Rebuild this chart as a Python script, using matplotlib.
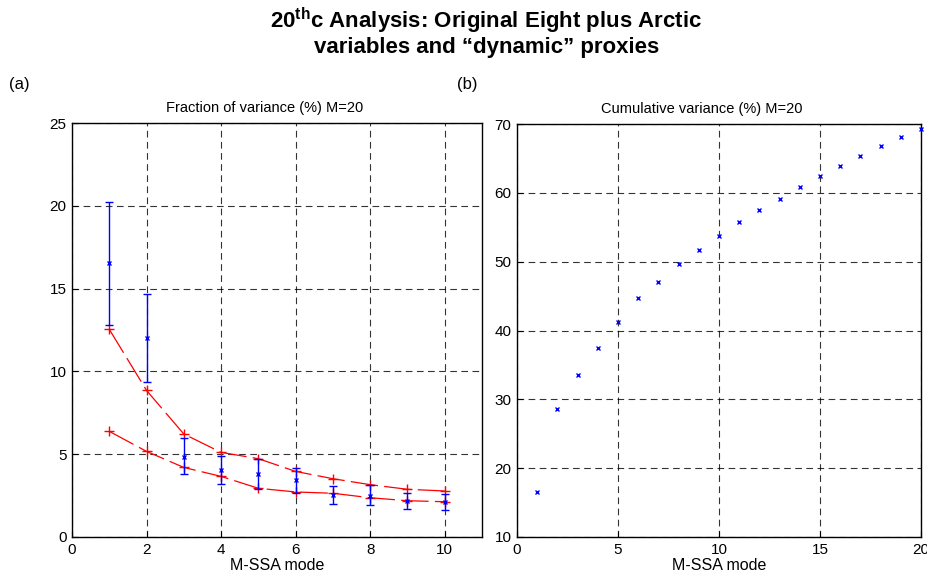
import matplotlib
matplotlib.use("Agg")
import matplotlib.pyplot as plt
import numpy as np

plt.rcParams['font.family'] = ['Liberation Sans', 'DejaVu Sans']
plt.rcParams['mathtext.fontset'] = 'custom'
plt.rcParams['mathtext.bf'] = 'Liberation Sans:bold'
plt.rcParams['mathtext.rm'] = 'Liberation Sans'

# Panel (a): fraction of variance per M-SSA mode
modes_a = [1, 2, 3, 4, 5, 6, 7, 8, 9, 10]
frac_var = [16.55, 12.0, 4.83, 4.02, 3.8, 3.46, 2.56, 2.5, 2.17, 2.11]
err_upper = [20.2, 14.7, 5.98, 4.9, 4.69, 4.16, 3.1, 3.12, 2.64, 2.62]
err_lower = [12.8, 9.36, 3.78, 3.18, 2.92, 2.66, 1.99, 1.95, 1.69, 1.65]
noise_hi = [12.54, 8.85, 6.22, 5.11, 4.73, 3.96, 3.52, 3.16, 2.88, 2.78]
noise_lo = [6.38, 5.17, 4.2, 3.66, 2.94, 2.72, 2.64, 2.37, 2.19, 2.13]

# Panel (b): cumulative variance
modes_b = list(range(1, 21))
cum_var = [16.5, 28.6, 33.5, 37.4, 41.3, 44.65, 47.1, 49.6, 51.76, 53.8,
           55.7, 57.5, 59.16, 60.9, 62.45, 63.95, 65.4, 66.76, 68.16, 69.3]

xticks_a = [0, 2, 4, 6, 8, 10]
yticks_a = [0, 5, 10, 15, 20, 25]
xticks_b = [0, 5, 10, 15, 20]
yticks_b = [10, 20, 30, 40, 50, 60, 70]

W, H = 927, 572
fig = plt.figure(figsize=(W / 100, H / 100), dpi=100)


def rect(l, t, r, b):
    return [l / W, 1 - b / H, (r - l) / W, (b - t) / H]


ax1 = fig.add_axes(rect(72, 123, 482, 537))
ax2 = fig.add_axes(rect(517, 124, 921, 537))

grid_kw = dict(color='black', linestyle=(0, (6, 4)), linewidth=0.8, alpha=0.8)
tick_kw = dict(direction='in', length=4, width=0.8, labelsize=11, pad=4)

for ax in (ax1, ax2):
    for s in ax.spines.values():
        s.set_linewidth(1.0)
    ax.tick_params(top=False, right=False, **tick_kw)
    ax.grid(True, **grid_kw)
    ax.set_axisbelow(True)

# (a)
dash = (0, (22, 5))
ax1.plot(modes_a, noise_hi, color='red', linestyle=dash, linewidth=0.9,
         marker='+', markersize=7, markeredgewidth=1.0, zorder=3)
ax1.plot(modes_a, noise_lo, color='red', linestyle=dash, linewidth=0.9,
         marker='+', markersize=7, markeredgewidth=1.0, zorder=3)
yerr = [np.array(frac_var) - np.array(err_lower),
        np.array(err_upper) - np.array(frac_var)]
ax1.errorbar(modes_a, frac_var, yerr=yerr, fmt='x', color='blue',
             ecolor='blue', elinewidth=1.0, capsize=3, capthick=1.0,
             markersize=3.5, markeredgewidth=1.0, zorder=4)
ax1.set_xlim(0, 11)
ax1.set_ylim(0, 25)
ax1.set_xticks(xticks_a)
ax1.set_yticks(yticks_a)
ax1.set_xlabel('M-SSA mode', fontsize=11.5, labelpad=1)
ax1.set_title('Fraction of variance (%) M=20', fontsize=10.5, pad=8, x=0.471)

# (b)
ax2.plot(modes_b, cum_var, linestyle='none', marker='x', color='blue',
         markersize=3.5, markeredgewidth=1.0, zorder=4, clip_on=False)
ax2.set_xlim(0, 20)
ax2.set_ylim(10, 70)
ax2.set_xticks(xticks_b)
ax2.set_yticks(yticks_b)
ax2.set_xlabel('M-SSA mode', fontsize=11.5, labelpad=1)
ax2.set_title('Cumulative variance (%) M=20', fontsize=10.5, pad=8, x=0.458)

fig.text(9 / W, 1 - 85 / H, '(a)', fontsize=12, va='center', ha='left')
fig.text(457 / W, 1 - 85 / H, '(b)', fontsize=12, va='center', ha='left')

fig.text(486 / W, 1 - 21 / H, r'20$^{\mathbf{th}}$c Analysis: Original Eight plus Arctic',
         fontsize=16, fontweight='bold', ha='center', va='center')
fig.text(487 / W, 1 - 47 / H, 'variables and \u201cdynamic\u201d proxies',
         fontsize=16, fontweight='bold', ha='center', va='center')

fig.savefig('out.png', dpi=100)
